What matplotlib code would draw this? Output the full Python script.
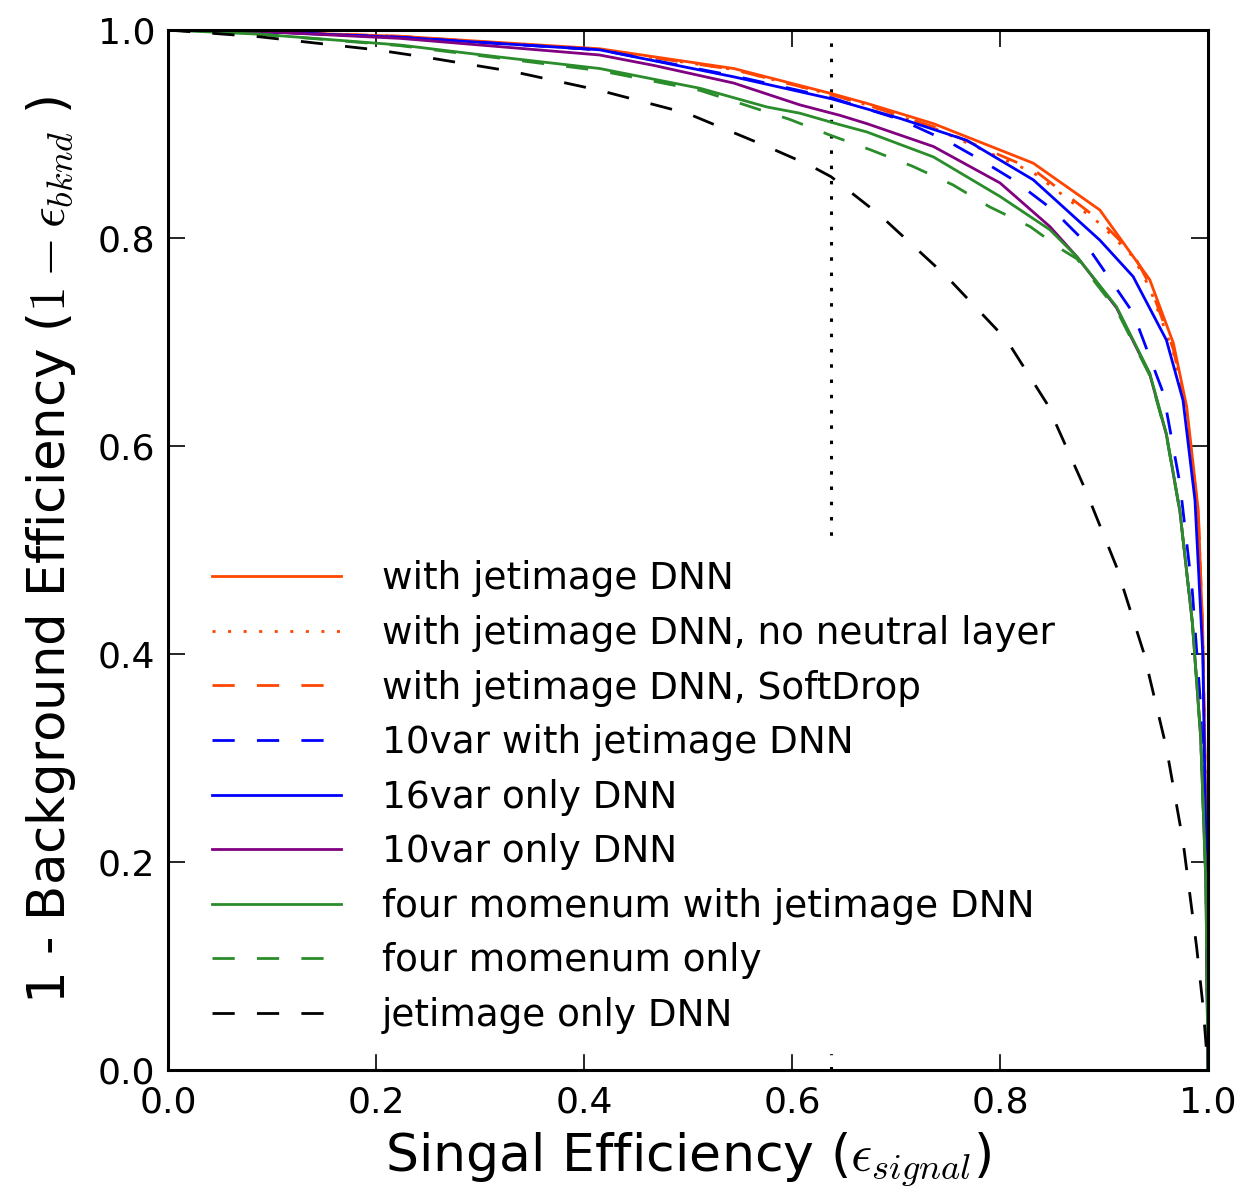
import matplotlib
matplotlib.use("Agg")
import matplotlib.pyplot as plt

plt.rcParams['font.family'] = ['DejaVu Sans']
plt.rcParams['mathtext.fontset'] = 'cm'
plt.rcParams['lines.scale_dashes'] = False

# ---- data ----
jet_x = [0, 0.1, 0.223, 0.415, 0.544, 0.6375, 0.672, 0.736, 0.832, 0.896, 0.944, 0.9667, 0.9795, 0.9907, 0.995, 0.998, 1.0]
jet_y = [1.0, 0.998, 0.994, 0.982, 0.963, 0.939, 0.9295, 0.910, 0.872, 0.827, 0.760, 0.699, 0.638, 0.538, 0.42, 0.25, 0.0]

jetnn_x = [0, 0.1, 0.223, 0.415, 0.544, 0.6375, 0.672, 0.736, 0.832, 0.896, 0.928, 0.944, 0.9667, 0.9795, 0.9907, 0.995, 0.998, 1.0]
jetnn_y = [1.0, 0.998, 0.994, 0.981, 0.962, 0.938, 0.928, 0.906, 0.863, 0.814, 0.782, 0.752, 0.690, 0.630, 0.533, 0.42, 0.25, 0.0]

jetsd_x = [0, 0.1, 0.223, 0.415, 0.544, 0.6375, 0.672, 0.736, 0.832, 0.896, 0.928, 0.944, 0.9667, 0.9795, 0.9907, 0.995, 0.998, 1.0]
jetsd_y = [1.0, 0.998, 0.994, 0.981, 0.962, 0.938, 0.928, 0.907, 0.866, 0.817, 0.785, 0.755, 0.693, 0.632, 0.535, 0.42, 0.25, 0.0]

v10jet_x = [0, 0.1, 0.223, 0.415, 0.544, 0.6375, 0.704, 0.75, 0.78, 0.8128, 0.851, 0.880, 0.928, 0.957, 0.973, 0.985, 0.993, 0.998, 1.0]
v10jet_y = [1.0, 0.998, 0.993, 0.981, 0.956, 0.935, 0.914, 0.893, 0.876, 0.856, 0.827, 0.798, 0.728, 0.651, 0.564, 0.46, 0.35, 0.2, 0.0]

v16_x = [0, 0.1, 0.223, 0.415, 0.544, 0.6375, 0.704, 0.768, 0.832, 0.896, 0.928, 0.960, 0.976, 0.9875, 0.995, 0.998, 1.0]
v16_y = [1.0, 0.998, 0.993, 0.981, 0.955, 0.934, 0.915, 0.894, 0.856, 0.798, 0.763, 0.702, 0.644, 0.548, 0.40, 0.22, 0.0]

v10_x = [0, 0.1, 0.223, 0.415, 0.467, 0.544, 0.6077, 0.646, 0.672, 0.736, 0.80, 0.848, 0.874, 0.912, 0.944, 0.960, 0.973, 0.985, 0.993, 0.998, 1.0]
v10_y = [1.0, 0.998, 0.992, 0.976, 0.966, 0.949, 0.928, 0.918, 0.910, 0.888, 0.853, 0.811, 0.782, 0.733, 0.669, 0.611, 0.537, 0.43, 0.32, 0.18, 0.0]

fmjet_x = [0, 0.088, 0.223, 0.319, 0.415, 0.5115, 0.576, 0.6077, 0.646, 0.672, 0.736, 0.80, 0.848, 0.874, 0.912, 0.944, 0.960, 0.973, 0.985, 0.993, 0.998, 1.0]
fmjet_y = [1.0, 0.996, 0.9856, 0.974, 0.963, 0.944, 0.926, 0.920, 0.909, 0.902, 0.878, 0.840, 0.808, 0.782, 0.734, 0.670, 0.612, 0.538, 0.43, 0.32, 0.18, 0.0]

fm_x = [0, 0.088, 0.223, 0.319, 0.415, 0.5115, 0.598, 0.6365, 0.675, 0.716, 0.755, 0.790, 0.829, 0.861, 0.874, 0.912, 0.944, 0.960, 0.973, 0.985, 0.993, 0.998, 1.0]
fm_y = [1.0, 0.996, 0.985, 0.973, 0.961, 0.942, 0.914, 0.899, 0.885, 0.869, 0.851, 0.830, 0.811, 0.788, 0.780, 0.731, 0.668, 0.610, 0.537, 0.43, 0.32, 0.18, 0.0]

img_x = [0, 0.088, 0.2, 0.247, 0.332, 0.415, 0.499, 0.576, 0.617, 0.6375, 0.6846, 0.7487, 0.8064, 0.845, 0.883, 0.912, 0.938, 0.960, 0.976, 0.989, 0.9955, 1.0]
img_y = [1.0, 0.9935, 0.981, 0.974, 0.960, 0.942, 0.920, 0.888, 0.870, 0.859, 0.822, 0.763, 0.702, 0.641, 0.556, 0.484, 0.402, 0.310, 0.220, 0.119, 0.059, 0.0]

working_point = 0.6375

labels = ["with jetimage DNN",
          "with jetimage DNN, no neutral layer",
          "with jetimage DNN, SoftDrop",
          "10var with jetimage DNN",
          "16var only DNN",
          "10var only DNN",
          "four momenum with jetimage DNN",
          "four momenum only",
          "jetimage only DNN"]

ticks = [0.0, 0.2, 0.4, 0.6, 0.8, 1.0]
tick_labels = ["0.0", "0.2", "0.4", "0.6", "0.8", "1.0"]

# ---- styling ----
RED = '#ff4500'
BLUE = '#0000ff'
PURPLE = '#800080'
GREEN = '#2a8c2a'
LW = 2.0
DASH = (0, (16, 16))
DOT = (0, (2.2, 9))

series = [
    (jet_x, jet_y, RED, '-'),
    (jetnn_x, jetnn_y, RED, DOT),
    (jetsd_x, jetsd_y, RED, DASH),
    (v10jet_x, v10jet_y, BLUE, DASH),
    (v16_x, v16_y, BLUE, '-'),
    (v10_x, v10_y, PURPLE, '-'),
    (fmjet_x, fmjet_y, GREEN, '-'),
    (fm_x, fm_y, GREEN, DASH),
    (img_x, img_y, 'black', DASH),
]

fig = plt.figure(figsize=(12.42, 11.92), dpi=100)
ax = fig.add_axes([0.1353, 0.1023, 0.8373, 0.8725])

ax.axvline(working_point, color='black', lw=2.2, linestyle=(0, (2.5, 8.5)), zorder=1)

for (x, y, c, ls), lab in zip(series, labels):
    ax.plot(x, y, color=c, linestyle=ls, lw=LW, label=lab, zorder=2)

ax.set_xlim(0, 1)
ax.set_ylim(0, 1)
ax.set_xticks(ticks)
ax.set_xticklabels(tick_labels)
ax.set_yticks(ticks)
ax.set_yticklabels(tick_labels)
ax.tick_params(direction='in', length=12, width=1.2, labelsize=26,
               top=True, right=True)
ax.tick_params(axis='x', pad=11)
ax.tick_params(axis='y', pad=9)
for s in ax.spines.values():
    s.set_linewidth(2.2)

ax.set_xlabel(r"Singal Efficiency ($\epsilon_{signal}$)", fontsize=37.5, labelpad=8)
ax.set_ylabel(r"1 - Background Efficiency ($1-\epsilon_{bknd}$ )", fontsize=37, labelpad=14)

leg = ax.legend(loc='upper left', bbox_to_anchor=(0.0246, 0.508), fontsize=26.9,
                handlelength=3.45, handletextpad=1.08, labelspacing=0.47,
                frameon=True, fancybox=False, borderpad=0.5, borderaxespad=0)
leg.get_frame().set_facecolor('white')
leg.get_frame().set_edgecolor('white')
leg.get_frame().set_alpha(1.0)
leg.set_zorder(5)

fig.savefig("out.png", dpi=100)
